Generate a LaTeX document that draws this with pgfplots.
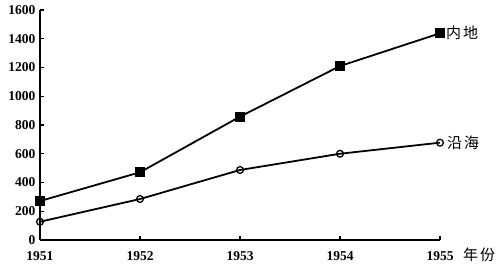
\documentclass[border=0pt]{standalone}
\usepackage{fontspec}
\setmainfont{Liberation Serif}
\newfontfamily\cjk{Noto Sans CJK SC}
\usepackage{pgfplots}
\pgfplotsset{compat=1.18}
\begin{document}
\begin{tikzpicture}[x=1pt,y=1pt]
\begin{axis}[
  at={(0,0)}, anchor=south west,
  scale only axis, width=400pt, height=230pt,
  xmin=1951, xmax=1955, ymin=0, ymax=1600,
  axis x line=bottom, axis y line=left,
  axis line style={-, line width=1.8pt},
  xtick={1951,1952,1953,1954,1955},
  xticklabels={1951,1952,1953,1954,1955},
  ytick={0,200,...,1600},
  tick align=inside,
  major tick length=4pt,
  tick style={line width=1.3pt, black},
  /pgf/number format/assume math mode=true,
  /pgf/number format/1000 sep={},
  tick label style={font=\bfseries\fontsize{13.5}{14}\selectfont},
  yticklabel style={anchor=east, xshift=-1pt},
  xticklabel style={anchor=base, yshift=-21pt},
  clip=false,
]
\addplot[black, line width=1.8pt, mark=square*, mark size=4pt, mark options={solid, fill=black}]
  coordinates {(1951,271) (1952,471) (1953,858) (1954,1210) (1955,1438)};
\addplot[black, line width=1.8pt, mark=o, mark size=3.4pt, mark options={solid, fill=white, line width=1.3pt}]
  coordinates {(1951,127) (1952,285) (1953,487) (1954,600) (1955,677)};
\node[anchor=west, font=\cjk\fontsize{15}{16}\selectfont, inner sep=0pt] at (axis cs:1955,1438) [xshift=6pt] {内\hspace{2pt}地};
\node[anchor=west, font=\cjk\fontsize{15}{16}\selectfont, inner sep=0pt] at (axis cs:1955,677) [xshift=7pt] {沿\hspace{2pt}海};
\node[anchor=base west, font=\cjk\fontsize{15}{16}\selectfont, inner sep=0pt] at (axis cs:1955,0) [xshift=23pt, yshift=-21pt] {年\hspace{2pt}份};
\end{axis}
\pgfresetboundingbox
\path[use as bounding box] (-40,-24) rectangle (458,240);
\end{tikzpicture}
\end{document}
